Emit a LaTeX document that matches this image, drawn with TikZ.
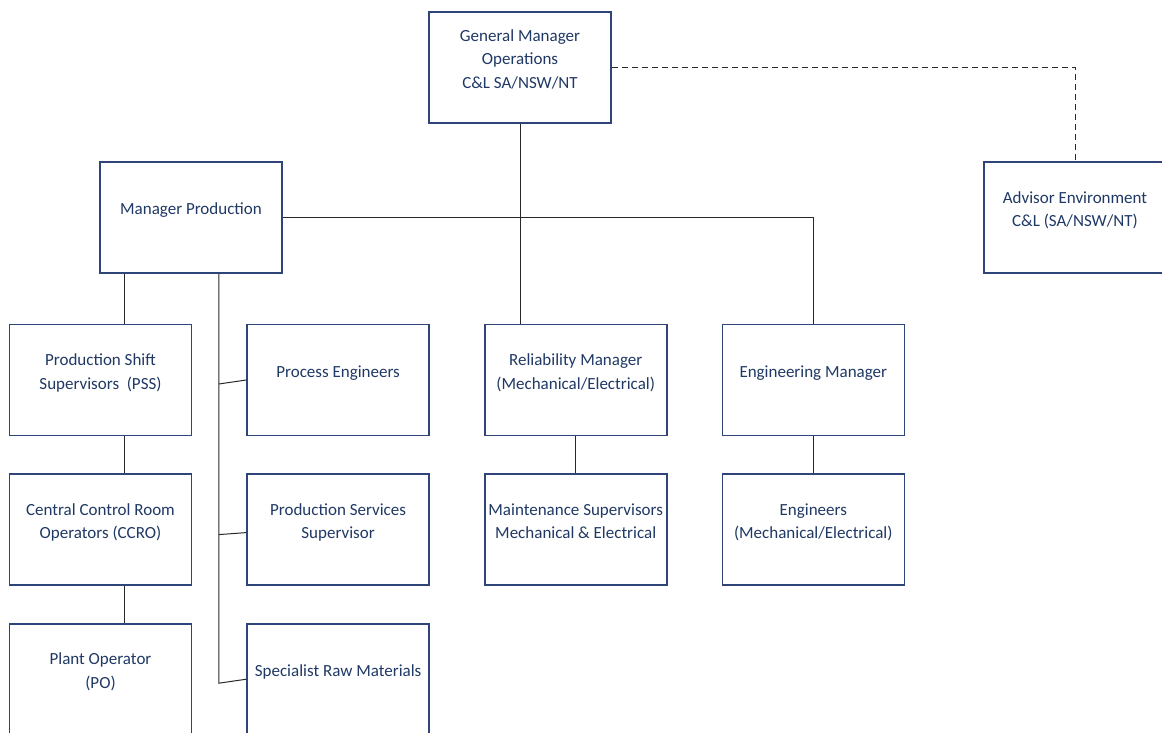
\documentclass[tikz,border=0pt]{standalone}
\usepackage{fontspec}
\setmainfont{Carlito}
\usepackage{xcolor}
\usetikzlibrary{positioning}
\definecolor{boxline}{RGB}{47,68,120}
\definecolor{boxtext}{RGB}{31,56,100}
\definecolor{linegray}{RGB}{40,40,40}

\begin{document}
\begin{tikzpicture}[x=1pt, y=1pt, node distance=37pt and 54pt,
    orgbox/.style={draw=boxline, line width=1.6pt, minimum width=182pt, minimum height=111pt,
        align=center, text=boxtext, font=\fontsize{17}{23.5}\selectfont,
        execute at end node={\vrule width 0pt depth 17pt}},
    link/.style={draw=linegray, line width=1pt}]
\useasboundingbox (0,0) rectangle (1162,-733);
% Components
\node[orgbox] (gm) at (520,-67.5) {General Manager\\Operations\\C\&L SA/NSW/NT};
\node[orgbox] (mp) at (191,-217.5) {Manager Production};
\node[orgbox] (adv) at (1075,-217.5) {Advisor Environment\\C\&L (SA/NSW/NT)};
\node[orgbox] (pss) at (100.5,-380) {Production Shift\\Supervisors~ (PSS)};
\node[orgbox, right=of pss] (pe) {Process Engineers};
\node[orgbox, right=of pe] (rm) {Reliability Manager\\(Mechanical/Electrical)};
\node[orgbox, right=of rm] (em) {Engineering Manager};
\node[orgbox, below=of pss] (ccro) {Central Control Room\\Operators (CCRO)};
\node[orgbox, below=of pe] (pssup) {Production Services\\Supervisor};
\node[orgbox, below=of rm] (ms) {Maintenance Supervisors\\Mechanical \& Electrical};
\node[orgbox, below=of em] (eng) {Engineers\\(Mechanical/Electrical)};
\node[orgbox, below=of ccro] (po) {Plant Operator\\(PO)};
\node[orgbox, below=of pssup] (srm) {Specialist Raw Materials};
% Connections
\coordinate (ln) at ([xshift=25pt]mp.south west);
\coordinate (tr) at ([xshift=-64pt]mp.south east);
\draw[link] (gm.south) -- (gm.south |- rm.north);
\draw[link] (mp.east) -| (em.north);
\draw[link] (ln) -- (ln |- pss.north);
\draw[link] (ln |- pss.south) -- (ln |- ccro.north);
\draw[link] (ln |- ccro.south) -- (ln |- po.north);
\draw[link] (tr) -- ([yshift=-4pt]tr |- srm.west) -- (srm.west);
\draw[link] ([yshift=-4pt]tr |- pe.west) -- (pe.west);
\draw[link] ([yshift=-5pt]tr |- pssup.west) -- ([yshift=-3pt]pssup.west);
\draw[link] (rm.south) -- (ms.north);
\draw[link] (em.south) -- (eng.north);
% dotted reporting line
\draw[link, dash pattern=on 6pt off 4pt] (gm.east) -| (adv.north);
\end{tikzpicture}
\end{document}
